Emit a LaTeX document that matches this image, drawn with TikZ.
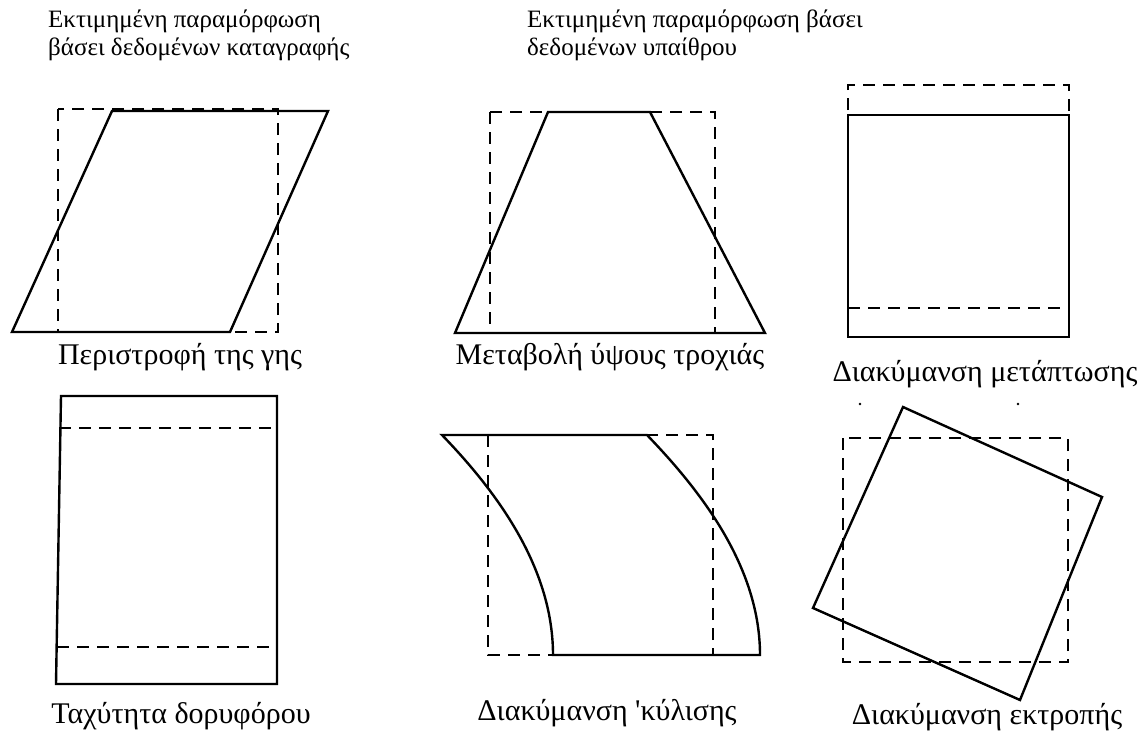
\documentclass[tikz,border=0pt]{standalone}
\usepackage{fontspec}
\setmainfont{Liberation Serif}[Ligatures=TeXOff]

\begin{document}
\begin{tikzpicture}[x=1pt, y=-1pt,
    outline/.style={line width=2.4pt, line join=miter},
    refbox/.style={line width=1.8pt, dash pattern=on 12pt off 8pt},
    caption/.style={font=\fontsize{30}{34}\selectfont, inner sep=0pt},
    heading/.style={font=\fontsize{25}{28}\selectfont, align=left,
                    anchor=north west, inner sep=0pt}]

    \useasboundingbox (0,0) rectangle (1146,731);

    % ── Headings ─────────────────────────────────────────────────────────────
    \node[heading] (recHead) at (48,10)
        {Εκτιμημένη παραμόρφωση\\βάσει δεδομένων καταγραφής};
    \node[heading] (fieldHead) at (527,10)
        {Εκτιμημένη παραμόρφωση βάσει\\δεδομένων υπαίθρου};

    % ── Earth rotation: parallelogram ────────────────────────────────────────
    \draw[refbox] (58,109) rectangle (278,332);
    \draw[outline] (12,332) -- (230,332) -- (328,111) -- (112,111) -- cycle;
    \node[caption] (earthRot) at (180,357) {Περιστροφή της γης};

    % ── Orbit height change: trapezoid ───────────────────────────────────────
    \draw[refbox] (490,112) rectangle (715,333);
    \draw[outline] (455,333) -- (765,333) -- (650,112) -- (548,112) -- cycle;
    \node[caption] (orbitHeight) at (610,357) {Μεταβολή ύψους τροχιάς};

    % ── Pitch variation: shifted box ─────────────────────────────────────────
    \draw[refbox] (848,110) -- (848,85) -- (1069,85) -- (1069,115);
    \draw[refbox] (848,308) -- (1069,308);
    \draw[outline] (848,115) rectangle (1069,337);
    \node[caption] (pitchVar) at (985,374) {Διακύμανση μετάπτωσης};

    % ── Satellite speed: stretched box ───────────────────────────────────────
    \draw[outline] (61,396) -- (277,396) -- (277,684) -- (56,684) -- cycle;
    \draw[refbox] (59,428) -- (277,428);
    \draw[refbox] (57,647) -- (277,647);
    \node[caption] (satSpeed) at (181,716) {Ταχύτητα δορυφόρου};

    % ── Roll variation: curved shear ─────────────────────────────────────────
    \draw[refbox] (488,435) rectangle (713,655);
    \draw[outline] (442,435) -- (647,435)
        .. controls (705,495) and (760,570) .. (760,655)
        -- (553,655)
        .. controls (553,570) and (500,495) .. (442,435) -- cycle;
    \node[caption] (rollVar) at (607,713) {Διακύμανση 'κύλισης};

    % ── Yaw variation: rotated square ────────────────────────────────────────
    \draw[refbox] (843,438) rectangle (1068,662);
    \draw[outline] (903,407) -- (1102,497) -- (1020,700) -- (813,608) -- cycle;
    \foreach \x in {860,1018}
        \fill (\x,404) circle (1.3pt);
    \node[caption] (yawVar) at (987,717) {Διακύμανση εκτροπής};

\end{tikzpicture}
\end{document}
